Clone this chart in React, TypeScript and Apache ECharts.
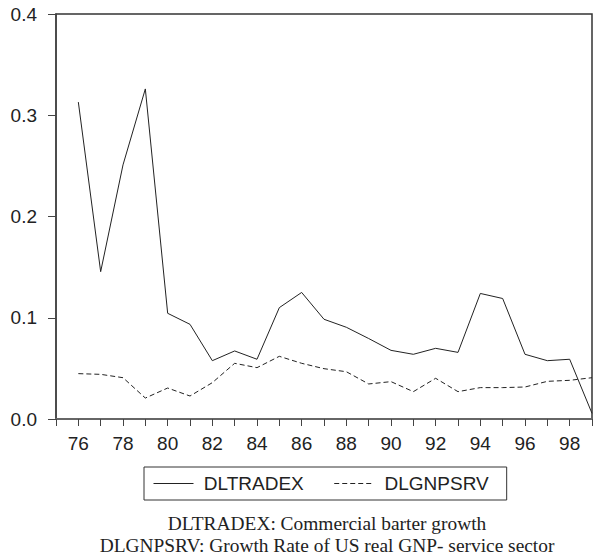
import React, { useEffect, useRef } from "react";
import * as echarts from "echarts";

const years = [76, 77, 78, 79, 80, 81, 82, 83, 84, 85, 86, 87, 88, 89, 90, 91, 92, 93, 94, 95, 96, 97, 98, 99];
const dltradex = [0.313, 0.1455, 0.251, 0.326, 0.1044, 0.0935, 0.0576, 0.0672, 0.059, 0.110, 0.125, 0.0985, 0.0906, 0.0795, 0.0678, 0.0639, 0.0698, 0.0658, 0.124, 0.119, 0.0639, 0.0576, 0.059, 0.0056];
const dlgnpsrv = [0.0448, 0.0441, 0.0408, 0.0207, 0.0306, 0.0227, 0.0359, 0.055, 0.0507, 0.0619, 0.055, 0.0497, 0.0467, 0.0346, 0.0369, 0.027, 0.0402, 0.027, 0.031, 0.031, 0.0316, 0.0372, 0.0382, 0.0408];
const seriesNames = ["DLTRADEX", "DLGNPSRV"];
const captionLines = [
  "DLTRADEX: Commercial barter growth",
  "DLGNPSRV: Growth Rate of US real GNP- service sector",
];

export default function App() {
  const ref = useRef<HTMLDivElement>(null);
  useEffect(() => {
    if (!ref.current) return;
    const chart = echarts.init(ref.current, undefined, { renderer: "svg" });
    const sans = "Liberation Sans";
    const serifStyle = {
      fontFamily: "Liberation Serif",
      fontSize: 19.4,
      fill: "#222",
      textAlign: "center",
      textVerticalAlign: "bottom",
    };
    chart.setOption({
      animation: false,
      backgroundColor: "#ffffff",
      grid: {
        left: 56,
        top: 14,
        width: 542,
        height: 405,
        show: true,
        borderColor: "#333",
        borderWidth: 1.5,
      },
      xAxis: {
        type: "value",
        min: 75,
        max: 99,
        interval: 1,
        splitLine: { show: false },
        axisLine: { show: true, lineStyle: { color: "#666", width: 2 } },
        axisTick: { show: true, length: 7, lineStyle: { color: "#444", width: 1 } },
        axisLabel: {
          margin: 15,
          fontFamily: sans,
          fontSize: 19,
          color: "#222",
          formatter: (v: number) => (v % 2 === 0 ? String(v) : ""),
        },
      },
      yAxis: {
        type: "value",
        min: 0,
        max: 0.4,
        interval: 0.1,
        splitLine: { show: false },
        axisLine: { show: true, lineStyle: { color: "#444", width: 1.5 } },
        axisTick: { show: true, length: 8, lineStyle: { color: "#444", width: 1 } },
        axisLabel: {
          margin: 19,
          fontFamily: sans,
          fontSize: 19,
          color: "#222",
          formatter: (v: number) => v.toFixed(1),
        },
      },
      legend: {
        show: true,
        left: 144,
        top: 467,
        orient: "horizontal",
        borderColor: "#333",
        borderWidth: 1,
        padding: [7, 18, 7, 9],
        itemGap: 30,
        itemWidth: 40,
        itemHeight: 18,
        itemStyle: { opacity: 0 },
        lineStyle: { width: 1 },
        formatter: (name: string) => " " + name,
        textStyle: { fontFamily: sans, fontSize: 19, color: "#222" },
        data: seriesNames,
      },
      graphic: [
        { type: "text", x: 327, y: 533, style: { ...serifStyle, text: captionLines[0] } },
        { type: "text", x: 327, y: 555, style: { ...serifStyle, text: captionLines[1] } },
      ],
      series: [
        {
          name: seriesNames[0],
          type: "line",
          data: years.map((y, i) => [y, dltradex[i]]),
          showSymbol: false,
          symbol: "none",
          lineStyle: { color: "#222", width: 1 },
          itemStyle: { color: "#222" },
        },
        {
          name: seriesNames[1],
          type: "line",
          data: years.map((y, i) => [y, dlgnpsrv[i]]),
          showSymbol: false,
          symbol: "none",
          lineStyle: { color: "#222", width: 1, type: [5, 3] },
          itemStyle: { color: "#222" },
        },
      ],
    });
    return () => chart.dispose();
  }, []);
  return (
    <div
      ref={ref}
      style={{ position: "absolute", left: 0, top: 0, width: 595, height: 558 }}
    />
  );
}
